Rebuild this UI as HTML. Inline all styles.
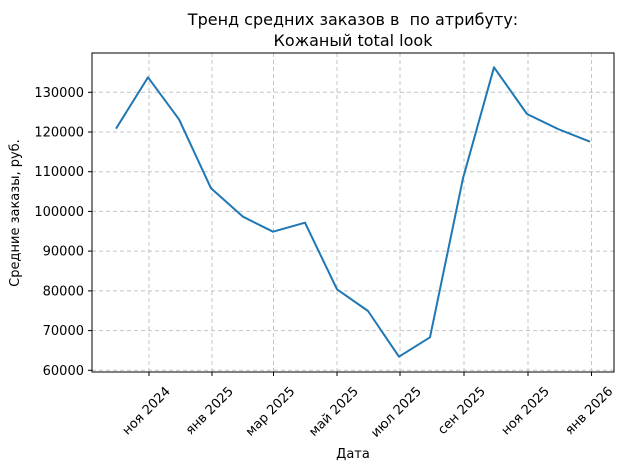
<!DOCTYPE html>
<html><head><meta charset="utf-8"><style>
html,body{margin:0;padding:0;background:#fff;}
svg{display:block;font-family:"DejaVu Sans","Liberation Sans",sans-serif;}
</style></head><body>
<svg width="628" height="470" viewBox="0 0 628 470" xmlns="http://www.w3.org/2000/svg">
<rect width="628" height="470" fill="#fff"/>
<g stroke="#c4c4c4" stroke-width="1" stroke-dasharray="4,3">
<line x1="92" x2="614" y1="92.3" y2="92.3"/>
<line x1="92" x2="614" y1="132" y2="132"/>
<line x1="92" x2="614" y1="171.7" y2="171.7"/>
<line x1="92" x2="614" y1="211.4" y2="211.4"/>
<line x1="92" x2="614" y1="251.1" y2="251.1"/>
<line x1="92" x2="614" y1="290.9" y2="290.9"/>
<line x1="92" x2="614" y1="330.6" y2="330.6"/>
<line x1="92" x2="614" y1="370.3" y2="370.3"/>
<line y1="53" y2="372" x1="149" x2="149"/>
<line y1="53" y2="372" x1="212" x2="212"/>
<line y1="53" y2="372" x1="273.5" x2="273.5"/>
<line y1="53" y2="372" x1="337" x2="337"/>
<line y1="53" y2="372" x1="400" x2="400"/>
<line y1="53" y2="372" x1="464" x2="464"/>
<line y1="53" y2="372" x1="528" x2="528"/>
<line y1="53" y2="372" x1="591.5" x2="591.5"/>
</g>
<polyline fill="none" stroke="#1f77b4" stroke-width="2" stroke-linejoin="round" points="116,128.7 148,77.3 179,119.3 211,188.3 243,216.7 273,231.7 305,222.7 337,289.3 368,311 399,356.7 430,337.3 463,178.3 494,67.3 527,114 558,129 590,141.7"/>
<rect x="92" y="53" width="522" height="319" fill="none" stroke="#000" stroke-width="1"/>
<g stroke="#000" stroke-width="1">
<line x1="88" x2="92" y1="92.3" y2="92.3"/><line x1="88" x2="92" y1="132" y2="132"/><line x1="88" x2="92" y1="171.7" y2="171.7"/><line x1="88" x2="92" y1="211.4" y2="211.4"/><line x1="88" x2="92" y1="251.1" y2="251.1"/><line x1="88" x2="92" y1="290.9" y2="290.9"/><line x1="88" x2="92" y1="330.6" y2="330.6"/><line x1="88" x2="92" y1="370.3" y2="370.3"/>
<line y1="372" y2="376" x1="149" x2="149"/><line y1="372" y2="376" x1="212" x2="212"/><line y1="372" y2="376" x1="273.5" x2="273.5"/><line y1="372" y2="376" x1="337" x2="337"/><line y1="372" y2="376" x1="400" x2="400"/><line y1="372" y2="376" x1="464" x2="464"/><line y1="372" y2="376" x1="528" x2="528"/><line y1="372" y2="376" x1="591.5" x2="591.5"/>
</g>
<g font-size="13" text-anchor="end" fill="#000">
<text x="84" y="96.8">130000</text><text x="84" y="136.5">120000</text><text x="84" y="176.2">110000</text><text x="84" y="215.9">100000</text><text x="84" y="255.6">90000</text><text x="84" y="295.4">80000</text><text x="84" y="335.1">70000</text><text x="84" y="374.8">60000</text>
</g>
<g font-size="13" text-anchor="end" fill="#000">
<text transform="translate(171,392) rotate(-45)">ноя 2024</text>
<text transform="translate(234,392) rotate(-45)">янв 2025</text>
<text transform="translate(295.5,392) rotate(-45)">мар 2025</text>
<text transform="translate(359,392) rotate(-45)">май 2025</text>
<text transform="translate(422,392) rotate(-45)">июл 2025</text>
<text transform="translate(486,392) rotate(-45)">сен 2025</text>
<text transform="translate(550,392) rotate(-45)">ноя 2025</text>
<text transform="translate(613.5,392) rotate(-45)">янв 2026</text>
</g>
<text x="353" y="458" font-size="13" text-anchor="middle">Дата</text>
<text transform="translate(19,213) rotate(-90)" font-size="13" text-anchor="middle">Средние заказы, руб.</text>
<text x="353" y="25" font-size="16" text-anchor="middle">Тренд средних заказов в&#160; по атрибуту:</text>
<text x="353" y="46" font-size="16" text-anchor="middle">Кожаный total look</text>
</svg>
</body></html>
